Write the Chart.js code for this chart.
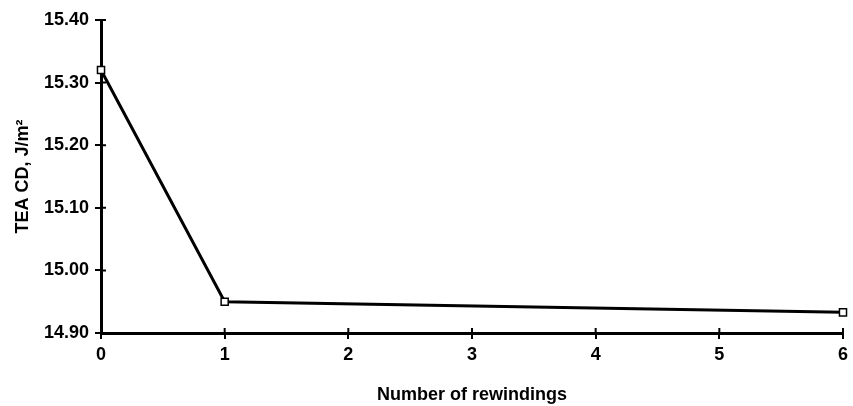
<!DOCTYPE html>
<html>
<head>
<meta charset="utf-8">
<script src="https://cdn.jsdelivr.net/npm/chart.js@4"></script>
<style>
  html, body { margin: 0; padding: 0; background: #fff; }
  #wrap { width: 853px; height: 406px; }
</style>
</head>
<body>
<div id="wrap"><canvas id="chart" width="853" height="406"></canvas></div>
<script>
// values
let rewindings = [0, 1, 6];
let teaCD = [15.32, 14.95, 14.933];
let xTicks = [0, 1, 2, 3, 4, 5, 6];
let yTicks = [14.90, 15.00, 15.10, 15.20, 15.30, 15.40];

let font = { family: '"Liberation Sans", Arial, sans-serif', weight: 'bold', size: 18 };

// small tick stubs on the inside of the axes (the original ticks cross the axis)
let innerTicks = {
    id: 'innerTicks',
    afterDraw(chart) {
        let ctx = chart.ctx;
        let xs = chart.scales.x, ys = chart.scales.y;
        ctx.save();
        ctx.strokeStyle = '#000';
        ctx.lineWidth = 2;
        ctx.beginPath();
        xs.ticks.forEach((t, i) => {
            let px = xs.getPixelForTick(i);
            ctx.moveTo(px, ys.bottom);
            ctx.lineTo(px, ys.bottom - 5);
        });
        ys.ticks.forEach((t, i) => {
            let py = ys.getPixelForTick(i);
            ctx.moveTo(xs.left, py);
            ctx.lineTo(xs.left + 5, py);
        });
        ctx.stroke();
        ctx.restore();
    }
};

let ctx = document.getElementById('chart').getContext('2d');
new Chart(ctx, {
    type: 'line',
    data: {
        datasets: [{
            data: rewindings.map((x, i) => ({ x: x, y: teaCD[i] })),
            borderColor: '#000',
            borderWidth: 3,
            pointStyle: 'rect',
            pointRadius: 5,
            pointBackgroundColor: '#fff',
            pointBorderColor: '#000',
            pointBorderWidth: 1.5,
            tension: 0,
            clip: false
        }]
    },
    options: {
        responsive: false,
        animation: false,
        layout: { padding: { top: 20, right: 6, bottom: 0, left: 0 } },
        plugins: { legend: { display: false }, tooltip: { enabled: false } },
        scales: {
            x: {
                type: 'linear',
                min: 0,
                max: 6,
                afterBuildTicks: s => { s.ticks = xTicks.map(v => ({ value: v })); },
                afterFit: s => { s.height = 73; },
                ticks: { color: '#000', font: font, padding: 5, maxRotation: 0 },
                grid: { display: true, drawOnChartArea: false, color: '#000', lineWidth: 2, tickLength: 6 },
                border: { color: '#000', width: 3 },
                title: { display: true, text: 'Number of rewindings', color: '#000', font: font, padding: { top: 10, bottom: 0 } }
            },
            y: {
                min: 14.9,
                max: 15.4,
                afterBuildTicks: s => { s.ticks = yTicks.map(v => ({ value: v })); },
                afterFit: s => { s.width = 101; },
                ticks: { color: '#000', font: font, padding: 6, callback: v => v.toFixed(2) },
                grid: { display: true, drawOnChartArea: false, color: '#000', lineWidth: 2, tickLength: 6 },
                border: { color: '#000', width: 3 },
                title: { display: true, text: 'TEA CD, J/m²', color: '#000', font: font, padding: { top: 12, bottom: 0 } }
            }
        }
    },
    plugins: [innerTicks]
});
</script>
</body>
</html>
